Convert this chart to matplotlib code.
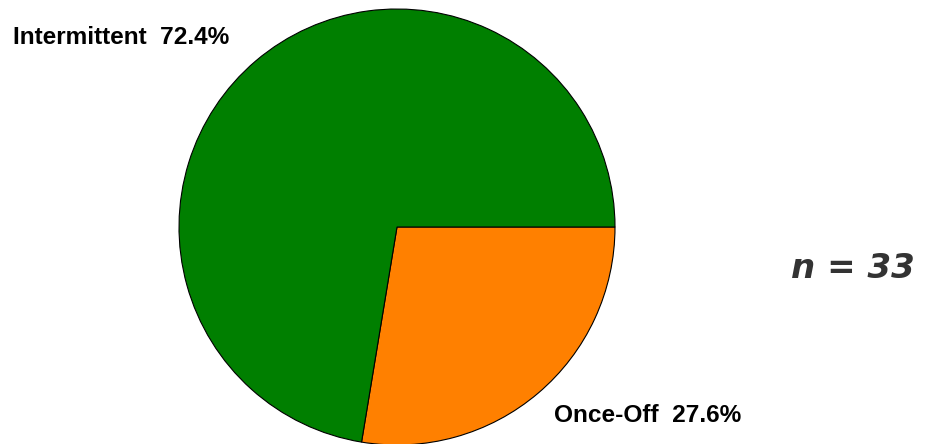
import matplotlib.pyplot as plt

# Pattern of occurrence
categories = ['Once-Off', 'Intermittent']
shares = [27.6, 72.4]
colours = ['#FF8000', '#007F00']
n_total = 33

W, H, dpi = 935, 444, 100
fig = plt.figure(figsize=(W / dpi, H / dpi), dpi=dpi)
fig.patch.set_facecolor('white')

# pie centre and radius in pixels
cx, cy, r = 397, 227, 218
ax = fig.add_axes([(cx - r) / W, (H - cy - r) / H, 2 * r / W, 2 * r / H])
ax.pie(shares, colors=colours, startangle=0, counterclock=False,
       wedgeprops=dict(edgecolor='black', linewidth=0.8))
ax.set_xlim(-1, 1)
ax.set_ylim(-1, 1)
ax.set_aspect('equal')
ax.axis('off')

font = ['Liberation Sans', 'DejaVu Sans']
fig.text(13 / W, 1 - 37 / H, f'{categories[1]}  {shares[1]:.1f}%',
         family=font, fontweight='bold', fontsize=17.6, va='center', ha='left')
fig.text(554 / W, 1 - 415 / H, f'{categories[0]}  {shares[0]:.1f}%',
         family=font, fontweight='bold', fontsize=17.6, va='center', ha='left')
fig.text(791 / W, 1 - 268 / H, f'n = {n_total}', family='DejaVu Sans',
         fontweight='bold', fontstyle='italic', fontsize=24.5, color='#333333',
         va='center', ha='left')

fig.savefig('out.png', dpi=dpi)
